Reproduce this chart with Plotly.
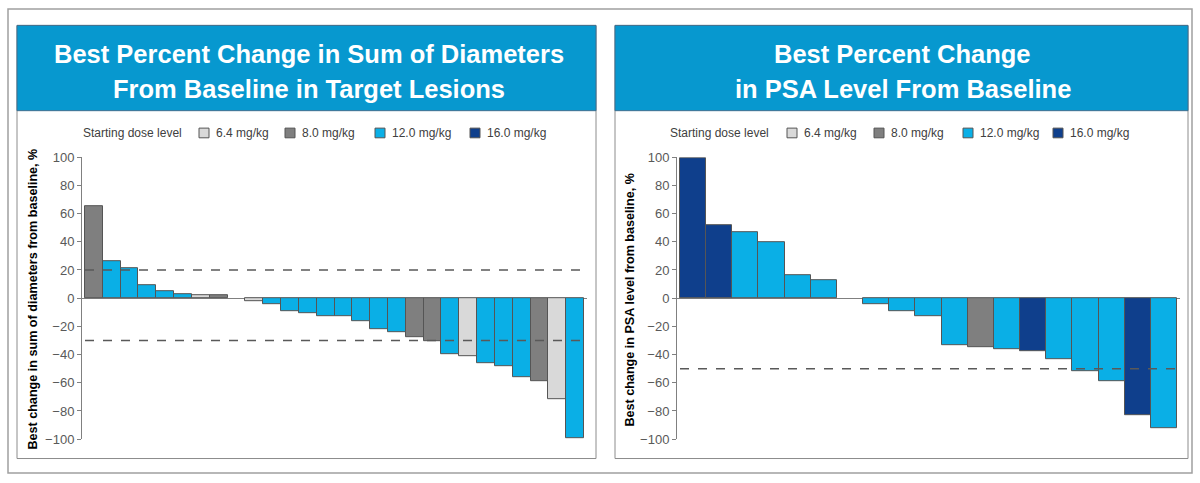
import plotly.graph_objects as go

W, H = 1200, 483

# ---------------- data ----------------
dose_levels = ["6.4 mg/kg", "8.0 mg/kg", "12.0 mg/kg", "16.0 mg/kg"]
dose_colors = {"6.4 mg/kg": "#D9D9D9", "8.0 mg/kg": "#7F7F7F",
               "12.0 mg/kg": "#0AAFE6", "16.0 mg/kg": "#0F3F8C"}

# Left: best % change in sum of diameters (patients ordered, None = no bar)
sod_values = [65, 26, 21, 9, 5, 3, 2, 2, None, -2, -4, -9, -11, -13, -13,
              -16.5, -22, -24, -28, -30.5, -40, -41, -46, -48, -56, -59, -72, -99]
sod_doses = ["8.0 mg/kg", "12.0 mg/kg", "12.0 mg/kg", "12.0 mg/kg", "12.0 mg/kg",
             "12.0 mg/kg", "6.4 mg/kg", "8.0 mg/kg", None, "6.4 mg/kg",
             "12.0 mg/kg", "12.0 mg/kg", "12.0 mg/kg", "12.0 mg/kg", "12.0 mg/kg",
             "12.0 mg/kg", "12.0 mg/kg", "12.0 mg/kg", "8.0 mg/kg", "8.0 mg/kg",
             "12.0 mg/kg", "6.4 mg/kg", "12.0 mg/kg", "12.0 mg/kg", "12.0 mg/kg",
             "8.0 mg/kg", "6.4 mg/kg", "12.0 mg/kg"]
sod_thresholds = [20, -30]

# Right: best % change in PSA level
psa_values = [99, 52, 47, 40, 16.5, 12.5, None, -4.5, -9, -13, -33.5, -34.5,
              -36.5, -37.5, -43, -52, -59, -83, -92]
psa_doses = ["16.0 mg/kg", "16.0 mg/kg", "12.0 mg/kg", "12.0 mg/kg", "12.0 mg/kg",
             "12.0 mg/kg", None, "12.0 mg/kg", "12.0 mg/kg", "12.0 mg/kg",
             "12.0 mg/kg", "8.0 mg/kg", "12.0 mg/kg", "16.0 mg/kg", "12.0 mg/kg",
             "12.0 mg/kg", "12.0 mg/kg", "16.0 mg/kg", "12.0 mg/kg"]
psa_thresholds = [-50]

y_ticks = [-100, -80, -60, -40, -20, 0, 20, 40, 60, 80, 100]

titles_left = ["Best Percent Change in Sum of Diameters", "From Baseline in Target Lesions"]
titles_right = ["Best Percent Change", "in PSA Level From Baseline"]
ytitle_left = "Best change in sum of diameters from baseline, %"
ytitle_right = "Best change in PSA level from baseline, %"
legend_title = "Starting dose level"

# ---------------- helpers ----------------
def px(x):
    return x / W

def py(y):
    return 1 - y / H

FONT = "Liberation Sans, Arial, sans-serif"
fig = go.Figure()

def add_bars(values, doses, xa, ya):
    for d in dose_levels:
        xs = [i for i, dd in enumerate(doses) if dd == d and values[i] is not None]
        ys = [values[i] for i in xs]
        if not xs:
            continue
        fig.add_trace(go.Bar(x=xs, y=ys, width=1, xaxis=xa, yaxis=ya,
                             marker=dict(color=dose_colors[d],
                                         line=dict(color="#555555", width=1)),
                             name=d, showlegend=False, hoverinfo="x+y"))

add_bars(sod_values, sod_doses, "x", "y")
add_bars(psa_values, psa_doses, "x2", "y2")

n_left = len(sod_values)
n_right = len(psa_values)
# plot areas (pixels)
L_x0, L_x1 = 82, 587
R_x0, R_x1 = 677, 1180
Y_top, Y_bot = 155, 446
l_pad = 3 / ((584 - 85) / n_left)
r_pad = 3 / ((1177 - 680) / n_right)

axis_common = dict(range=[-100, 100], tickvals=y_ticks, ticks="outside", ticklen=4,
                   tickcolor="#808080", showline=True, linecolor="#808080", linewidth=1,
                   showgrid=False, zeroline=True, zerolinecolor="#808080",
                   zerolinewidth=1, tickfont=dict(family=FONT, size=13, color="#595959"),
                   domain=[py(Y_bot), py(Y_top)], fixedrange=True)

fig.update_layout(
    width=W, height=H, margin=dict(l=0, r=0, t=0, b=0),
    paper_bgcolor="white", plot_bgcolor="rgba(0,0,0,0)",
    barmode="overlay", bargap=0, showlegend=False,
    xaxis=dict(domain=[px(L_x0), px(L_x1)], range=[-0.5 - l_pad, n_left - 0.5 + l_pad],
               visible=False, fixedrange=True),
    xaxis2=dict(domain=[px(R_x0), px(R_x1)], range=[-0.5 - r_pad, n_right - 0.5 + r_pad],
                visible=False, fixedrange=True, anchor="y2"),
    yaxis=dict(anchor="x", **axis_common),
    yaxis2=dict(anchor="x2", **axis_common),
)

FRAME_T, FRAME_B = 2, 481
HEAD_T, HEAD_B = 19, 107
PANEL_B = 466

shapes = []
# outer frame
shapes.append(dict(type="rect", xref="paper", yref="paper", x0=px(8), x1=px(1192),
                   y0=py(FRAME_B), y1=py(FRAME_T), line=dict(color="#A0A0A0", width=1.5),
                   fillcolor="rgba(0,0,0,0)", layer="below"))
# panels
for x0, x1 in [(17, 596), (615, 1188)]:
    shapes.append(dict(type="rect", xref="paper", yref="paper", x0=px(x0), x1=px(x1),
                       y0=py(PANEL_B), y1=py(HEAD_T), line=dict(color="#8C8C8C", width=1),
                       fillcolor="white", layer="below"))
    shapes.append(dict(type="rect", xref="paper", yref="paper", x0=px(x0), x1=px(x1),
                       y0=py(HEAD_B), y1=py(HEAD_T), line=dict(color="#3F6F8F", width=1),
                       fillcolor="#0798CF", layer="below"))
# reference dashed lines
for t in sod_thresholds:
    shapes.append(dict(type="line", xref="x", yref="y", x0=-0.5, x1=n_left - 0.5 + l_pad,
                       y0=t, y1=t, line=dict(color="#595959", width=1.5, dash="dash")))
for t in psa_thresholds:
    shapes.append(dict(type="line", xref="x2", yref="y2", x0=-0.5, x1=n_right - 0.5 + r_pad,
                       y0=t, y1=t, line=dict(color="#595959", width=1.5, dash="dash")))

annotations = []
# header titles
for cx, lines in [(309, titles_left), (903, titles_right)]:
    for k, line in enumerate(lines):
        annotations.append(dict(xref="paper", yref="paper", x=px(cx), y=py(49 + 36 * k),
                                text="<b>" + line + "</b>", showarrow=False,
                                xanchor="center", yanchor="middle",
                                font=dict(family=FONT, size=25.5, color="white")))
# y-axis titles
for cx, txt in [(33, ytitle_left), (630, ytitle_right)]:
    annotations.append(dict(xref="paper", yref="paper", x=px(cx), y=py(302),
                            text="<b>" + txt + "</b>", showarrow=False, textangle=-90,
                            xanchor="center", yanchor="middle",
                            font=dict(family=FONT, size=12.6, color="black")))

# legends (box + label)
leg_y = 130
leg_layouts = [
    (81, [199, 285, 375, 470]),
    (668, [787, 874, 963, 1053]),
]
for title_x, box_xs in leg_layouts:
    annotations.append(dict(xref="paper", yref="paper", x=px(title_x), y=py(leg_y),
                            text=legend_title, showarrow=False, xanchor="left",
                            yanchor="middle",
                            font=dict(family=FONT, size=12, color="#404040")))
    for bx, d in zip(box_xs, dose_levels):
        shapes.append(dict(type="rect", xref="paper", yref="paper", x0=px(bx), x1=px(bx + 10),
                           y0=py(leg_y + 5), y1=py(leg_y - 5),
                           line=dict(color="#555555", width=1), fillcolor=dose_colors[d]))
        annotations.append(dict(xref="paper", yref="paper", x=px(bx + 15), y=py(leg_y),
                                text=d, showarrow=False, xanchor="left", yanchor="middle",
                                font=dict(family=FONT, size=12, color="#404040")))

fig.update_layout(shapes=shapes, annotations=annotations)

post = ("document.body.style.margin='0';document.body.style.padding='0';"
        "document.body.style.overflow='hidden';"
        "var gd=document.getElementById('{plot_id}');"
        "gd.style.position='absolute';gd.style.left='0px';gd.style.top='0px';")
fig.write_html("out.html", post_script=post, config={"displayModeBar": False})
